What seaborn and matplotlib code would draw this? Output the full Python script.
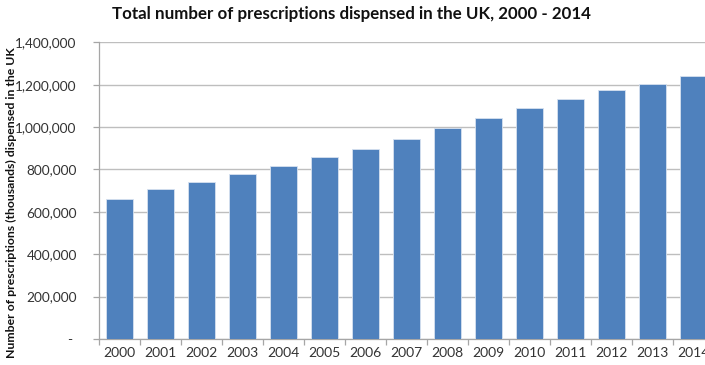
import matplotlib
matplotlib.use("Agg")
import matplotlib.pyplot as plt
from matplotlib.ticker import FuncFormatter, FixedLocator
import seaborn as sns
import pandas as pd
import numpy as np

# Prescriptions dispensed (thousands) per year
years = ["2000", "2001", "2002", "2003", "2004", "2005", "2006", "2007",
         "2008", "2009", "2010", "2011", "2012", "2013", "2014"]
prescriptions = [662000, 706000, 741000, 777000, 818000, 859000, 895000, 946000,
                 997000, 1044000, 1091000, 1132000, 1176000, 1205000, 1241000]
y_ticks = [0, 200000, 400000, 600000, 800000, 1000000, 1200000, 1400000]

title = "Total number of prescriptions dispensed in the UK, 2000 - 2014"
y_label = "Number of prescriptions (thousands) dispensed in the UK"

df = pd.DataFrame({"year": years, "count": prescriptions})

sns.set_theme(style="white")
plt.rcParams["font.family"] = ["Lato", "DejaVu Sans"]

fig = plt.figure(figsize=(7.05, 3.65), dpi=100)
ax = fig.add_axes([99 / 705, 26 / 365, 615 / 705, 296.7 / 365])

sns.barplot(data=df, x="year", y="count", color="#4F81BD", width=0.67,
            saturation=1, edgecolor="#D6E1F0", linewidth=0.6, ax=ax, zorder=3)

ax.set_ylim(0, 1400000)
ax.set_xlim(-0.5, len(years) - 0.5)
ax.yaxis.set_major_locator(FixedLocator(y_ticks))
ax.yaxis.set_major_formatter(
    FuncFormatter(lambda v, p: "- " if v == 0 else f"{int(v):,}"))
ax.yaxis.grid(True, color="#BEBEBE", linewidth=1.0, zorder=0)
ax.set_axisbelow(True)

for side in ("top", "right"):
    ax.spines[side].set_visible(False)
for side in ("left", "bottom"):
    ax.spines[side].set_color("#A6A6A6")
    ax.spines[side].set_linewidth(0.9)

# Category boundary ticks on the x axis
ax.set_xticks(np.arange(-0.5, len(years), 1.0), minor=True)
ax.tick_params(axis="x", which="minor", length=4, color="#A6A6A6", width=0.9,
               direction="out", bottom=True)
ax.tick_params(axis="x", which="major", length=0, pad=6, labelsize=10,
               labelcolor="#333333")
ax.tick_params(axis="y", which="major", length=4, color="#A6A6A6", width=0.9,
               direction="out", left=True, pad=12, labelsize=9.8,
               labelcolor="#333333")

ax.set_xlabel("")
ax.set_ylabel(y_label, fontsize=8.8, fontweight="bold", color="#111111")
ax.yaxis.set_label_coords(-82 / 615, 0.458)

fig.text(351 / 705, 1 - 14 / 365, title, ha="center", va="center",
         fontsize=12.2, fontweight="bold", color="#111111")

fig.savefig("out.png", dpi=100)
